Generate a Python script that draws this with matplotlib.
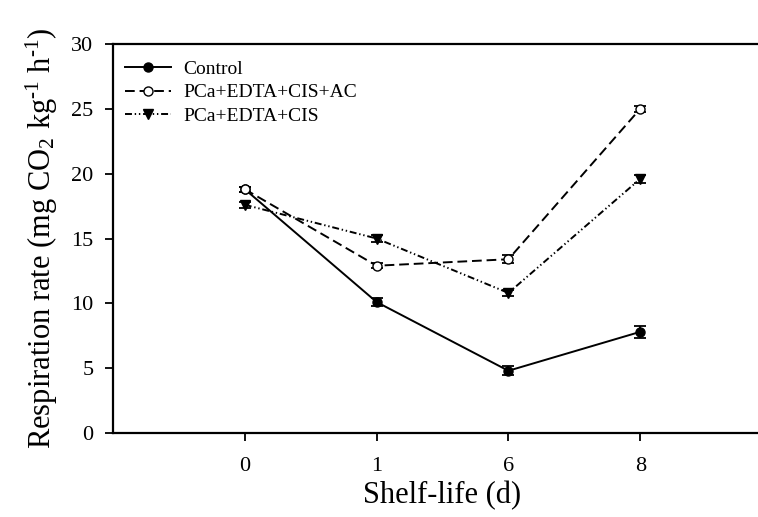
import matplotlib
matplotlib.use('Agg')
import matplotlib.pyplot as plt
from matplotlib.lines import Line2D

plt.rcParams['font.family'] = ['Liberation Serif', 'DejaVu Serif']
plt.rcParams['mathtext.fontset'] = 'custom'
plt.rcParams['mathtext.rm'] = 'Liberation Serif'
plt.rcParams['mathtext.it'] = 'Liberation Serif:italic'
plt.rcParams['lines.scale_dashes'] = False

# 数据
days = ['0', '1', '6', '8']
control = [18.8, 10.1, 4.8, 7.8]
control_err = [0.2, 0.3, 0.35, 0.45]
pca_ac = [18.8, 12.9, 13.4, 25.0]
pca_ac_err = [0.2, 0.2, 0.3, 0.25]
pca_cis = [17.6, 15.0, 10.8, 19.6]
pca_cis_err = [0.25, 0.25, 0.25, 0.3]

styles = [
    (control, control_err, 'Control', 'o', 'black', '-'),
    (pca_ac, pca_ac_err, 'PCa+EDTA+CIS+AC', 'o', 'white', (0, (7, 3.5))),
    (pca_cis, pca_cis_err, 'PCa+EDTA+CIS', 'v', 'black', (0, (5, 2, 1, 2, 1, 2))),
]


def drawMyGraph():
    fig = plt.figure(figsize=(7.58, 5.17), dpi=100)
    ax = fig.add_axes([113 / 758, 84 / 517, 659 / 758, 389 / 517])
    x = list(range(len(days)))

    handles = []
    for vals, err, name, mk, fc, ls in styles:
        ms = 7.5 if mk == 'v' else 6.5
        ax.errorbar(x, vals, yerr=err, color='black', lw=1.4, marker=mk,
                    markersize=ms, markerfacecolor=fc, capsize=4,
                    capthick=1.3, linestyle=ls)
        handles.append(Line2D([], [], color='black', lw=1.4, marker=mk,
                              markersize=ms, markerfacecolor=fc,
                              linestyle=ls, label=name))

    ax.set_xlim(-1, 4)
    ax.set_ylim(0, 30)
    ax.set_xticks(x)
    ax.set_xticklabels(days)
    ax.set_yticks(range(0, 31, 5))
    ax.tick_params(axis='both', labelsize=16, direction='out', length=6,
                   width=1.3)
    ax.tick_params(axis='x', pad=11)
    ax.tick_params(axis='y', pad=8)
    for s in ax.spines.values():
        s.set_linewidth(1.6)

    ax.set_xlabel('Shelf-life (d)', fontsize=22, labelpad=4)
    ax.set_ylabel('Respiration rate (mg CO$_2$ kg$^{\\text{-}1}$ h$^{\\text{-}1}$)',
                  fontsize=22, labelpad=8)

    ax.legend(handles=handles, loc='upper left', frameon=False, fontsize=14,
              numpoints=1, handlelength=2.4, handletextpad=0.6,
              labelspacing=0.32, borderaxespad=0.3,
              bbox_to_anchor=(-0.003, 0.994))

    fig.savefig('out.png', dpi=100)


if __name__ == '__main__':
    drawMyGraph()
